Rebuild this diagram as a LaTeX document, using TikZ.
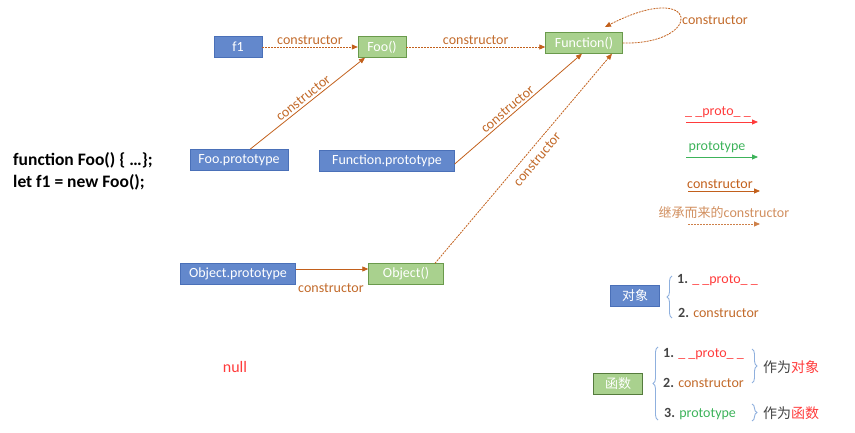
\documentclass[tikz,border=0pt]{standalone}
\usepackage{fontspec}
\setmainfont{Carlito}
\newfontfamily\cjk{Noto Sans CJK SC}
\usetikzlibrary{arrows.meta,decorations.pathreplacing,calc}
\definecolor{bxblue}{HTML}{6388CC}
\definecolor{bxblueb}{HTML}{4A70B8}
\definecolor{bxgreen}{HTML}{A9D18E}
\definecolor{bxgreenb}{HTML}{6A9A4C}
\definecolor{brn}{HTML}{C2601C}
\definecolor{brnt}{HTML}{C26A2A}
\definecolor{rd}{HTML}{FF3B3B}
\definecolor{gn}{HTML}{3DB35A}
\definecolor{brc}{HTML}{8FB0DE}
\definecolor{gry}{HTML}{444444}
\tikzset{
  bbox/.style={draw=bxblueb,fill=bxblue,text=white,minimum height=21pt,inner sep=2pt,font=\fontsize{14}{16}\selectfont},
  gbox/.style={draw=bxgreenb,fill=bxgreen,text=white,minimum height=21pt,inner sep=2pt,font=\fontsize{14}{16}\selectfont},
  con/.style={draw=brn,line width=0.8pt,-{Triangle[length=6pt,width=5pt]}},
  inh/.style={con,dash pattern=on 2pt off 1pt},
  lab/.style={text=brnt,font=\fontsize{14}{16}\selectfont,inner sep=1pt},
  lg/.style={font=\fontsize{14}{16}\selectfont,inner sep=1pt},
  brc/.style={draw=brc,line width=0.9pt,decorate,decoration={brace,amplitude=5pt}}
}
\begin{document}
\begin{tikzpicture}[x={(1pt,0)},y={(0,-1pt)}]
\useasboundingbox (0,0) rectangle (855,433);
% boxes
\node[bbox,minimum width=48pt] (f1) at (238,47) {f1};
\node[gbox,minimum width=48pt] (foo) at (382,47) {Foo()};
\node[gbox,minimum width=77pt] (fn) at (584,43) {Function()};
\node[bbox,minimum width=98pt] (fp) at (239,160) {Foo.prototype};
\node[bbox,minimum width=135pt] (fnp) at (387,161) {Function.prototype};
\node[bbox,minimum width=115pt] (op) at (238,274) {Object.prototype};
\node[gbox,minimum width=75pt] (obj) at (406,274) {Object()};
% code
\node[font=\bfseries\fontsize{17.5}{22}\selectfont,align=left,anchor=west,inner sep=0pt] (code) at (13,171) {function Foo() \{ …\};\\let f1 = new Foo();};
\node[text=rd,font=\fontsize{16}{18}\selectfont] (nul) at (235,367) {null};
% connectors
\draw[inh] (f1.east) -- node[lab,above=1pt] {constructor} (foo.west);
\draw[inh] (foo.east) -- node[lab,above=1pt] {constructor} (fn.west |- foo.east);
\draw[inh] (fn.east) .. controls (705,45) and (700,-22) .. (605,27);
\node[lab] (selfl) at (715,20) {constructor};
\draw[con] ([xshift=11pt]fp.north) -- node[lab,sloped,above=1pt] {constructor} ([xshift=-17pt]foo.south);
\draw[con] ([yshift=-3pt]fnp.east) -- node[lab,sloped,above=1pt,pos=0.45] {constructor} ([xshift=-2pt]fn.south);
\draw[inh] ([xshift=29pt]obj.north) -- node[lab,sloped,below=5pt,pos=0.53] {constructor} ([xshift=28pt]fn.south);
\draw[con] ([yshift=5pt]op.east) -- ([yshift=5pt]obj.west);
\node[lab] (opl) at (331,288) {constructor};
% legend
\node[lg,text=rd] (l1) at (718,112) {\_ \_proto\_ \_};
\coordinate (l1a) at (686,122); \coordinate (l1b) at (758,122);
\draw[draw=rd,line width=0.8pt,-{Triangle[length=6pt,width=5pt]}] (l1a) -- (l1b);
\node[lg,text=gn] (l2) at (717,147) {prototype};
\coordinate (l2a) at (686,157); \coordinate (l2b) at (758,157);
\draw[draw=gn,line width=0.8pt,-{Triangle[length=6pt,width=5pt]}] (l2a) -- (l2b);
\node[lg,text=brn] (l3) at (720,184) {constructor};
\coordinate (l3a) at (688,191); \coordinate (l3b) at (760,191);
\draw[con] (l3a) -- (l3b);
\node[lg,text=brnt!75] (l4) at (724,213) {{\cjk\fontsize{13}{15}\selectfont 继承而来的}constructor};
\coordinate (l4a) at (688,224); \coordinate (l4b) at (760,224);
\draw[inh,draw=brn!80] (l4a) -- (l4b);
% object panel
\node[bbox,minimum width=49pt,font=\cjk\fontsize{13}{15}\selectfont] (dx) at (635,296) {对象};
\draw[brc] (672,318) -- (672,276);
\node[lg,anchor=west] (o1) at (676,280) {\textcolor{gry}{\bfseries 1.} \textcolor{rd}{\_ \_proto\_ \_}};
\node[lg,anchor=west] (o2) at (677,313) {\textcolor{gry}{\bfseries 2.} \textcolor{brnt}{constructor}};
% function panel
\node[gbox,draw=bxgreenb!80!black,minimum width=49pt,font=\cjk\fontsize{13}{15}\selectfont] (hs) at (618,384) {函数};
\draw[brc] (658,420) -- (658,347);
\node[lg,anchor=west] (h1) at (662,354) {\textcolor{gry}{\bfseries 1.} \textcolor{rd}{\_ \_proto\_ \_}};
\node[lg,anchor=west] (h2) at (662,383) {\textcolor{gry}{\bfseries 2.} \textcolor{brnt}{constructor}};
\node[lg,anchor=west] (h3) at (663,414) {\textcolor{gry}{\bfseries 3.} \textcolor{gn}{prototype}};
\draw[brc] (752,349) -- (752,383);
\draw[brc] (752,404) -- (752,421);
\node[lg,anchor=west,font=\cjk\fontsize{14}{16}\selectfont] (h12) at (762,367) {\textcolor{gry}{作为}\textcolor{rd}{对象}};
\node[lg,anchor=west,font=\cjk\fontsize{14}{16}\selectfont] (h3r) at (762,413) {\textcolor{gry}{作为}\textcolor{rd}{函数}};
\end{tikzpicture}
\end{document}
